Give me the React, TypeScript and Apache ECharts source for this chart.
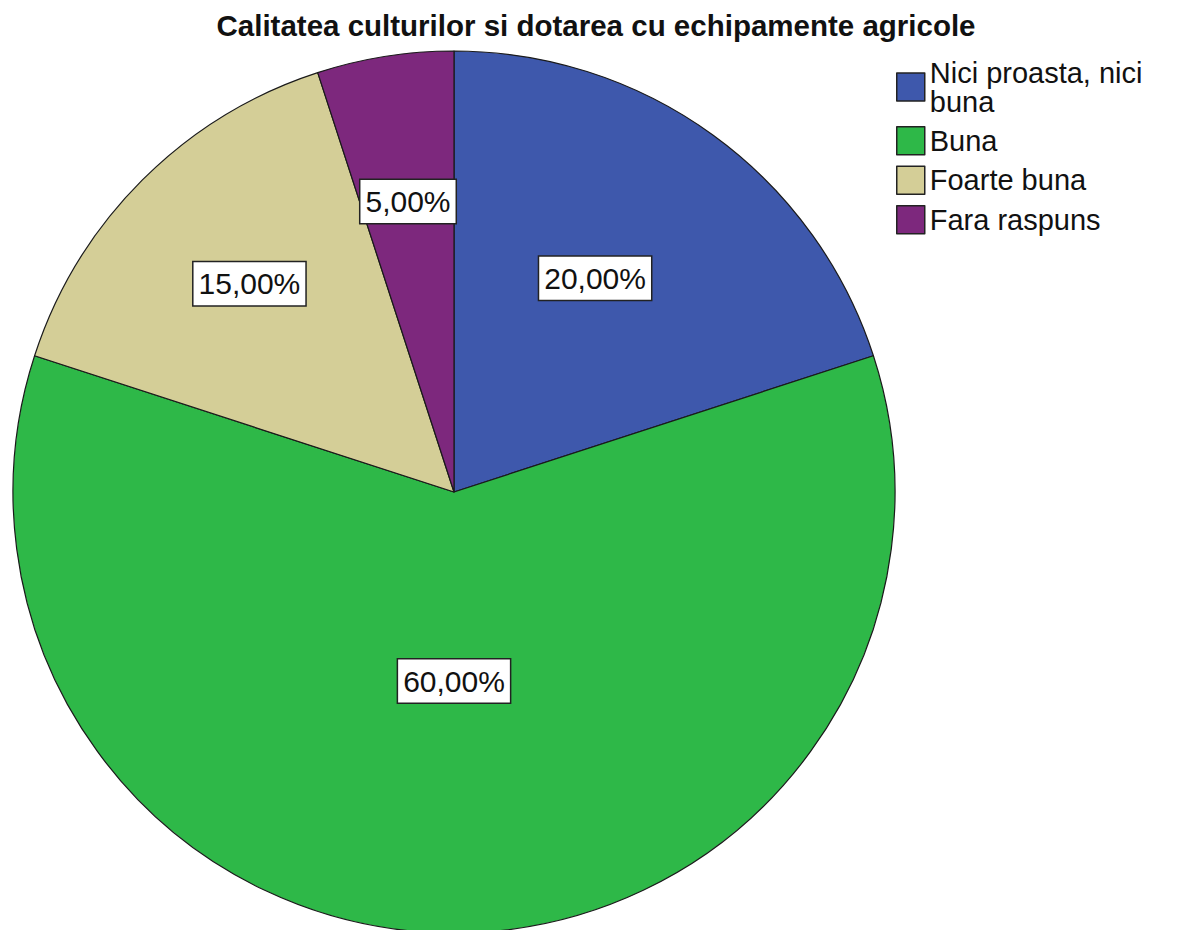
import React, { useEffect, useRef } from "react";
import * as echarts from "echarts";

const TITLE = "Calitatea culturilor si dotarea cu echipamente agricole";
const categories = ["Nici proasta, nici buna", "Buna", "Foarte buna", "Fara raspuns"];
const legendLabels = ["Nici proasta, nici\nbuna", "Buna", "Foarte buna", "Fara raspuns"];
const values = [20, 60, 15, 5];
const colors = ["#3E58AC", "#2EB848", "#D4CE97", "#7D287D"];
const labelRadiusFrac = [0.574, 0.422, 0.655, 0.66];
const labelAngleShiftDeg = [-2.6, 0, 0.5, 0];

const CX = 454;
const CY = 492;
const R = 441;

export default function App() {
  const ref = useRef<HTMLDivElement>(null);
  useEffect(() => {
    document.body.style.margin = "0";
    const chart = echarts.init(ref.current!, null, { renderer: "svg" });
    const total = values.reduce((a, b) => a + b, 0);
    const midAngles: number[] = [];
    let acc = 0;
    values.forEach((v) => {
      midAngles.push(((acc + v / 2) / total) * Math.PI * 2);
      acc += v;
    });
    const font = "'Liberation Sans', Arial, sans-serif";
    chart.setOption({
      animation: false,
      backgroundColor: "#ffffff",
      title: {
        text: TITLE,
        left: 591,
        textAlign: "center",
        top: 5,
        textStyle: { fontFamily: font, fontSize: 29.5, fontWeight: "bold", color: "#111" },
      },
      legend: {
        orient: "vertical",
        left: 891,
        top: 53,
        itemWidth: 28,
        itemHeight: 28,
        itemGap: 10,
        icon: "rect",
        selectedMode: false,
        data: categories.map((c, i) => ({
          name: c,
          itemStyle: { color: colors[i], borderColor: "#222", borderWidth: 1.5 },
        })),
        formatter: (name: string) => legendLabels[categories.indexOf(name)],
        textStyle: { fontFamily: font, fontSize: 29, lineHeight: 29, color: "#111" },
      },
      series: [
        {
          type: "pie",
          center: [CX, CY],
          radius: [0, R],
          startAngle: 90,
          clockwise: true,
          itemStyle: { borderColor: "#1a1a1a", borderWidth: 1.2 },
          label: {
            show: true,
            position: "inside",
            formatter: (p: any) => p.value.toFixed(2).replace(".", ",") + "%",
            fontFamily: font,
            fontSize: 30,
            lineHeight: 34,
            color: "#111",
            backgroundColor: "#ffffff",
            borderColor: "#222",
            borderWidth: 1.5,
            padding: [5, 5, 4, 5],
          },
          labelLine: { show: false },
          emphasis: { disabled: true },
          labelLayout: (p: any) => {
            const i = p.dataIndex;
            const a = midAngles[i];
            const b = a + (labelAngleShiftDeg[i] * Math.PI) / 180;
            const half = 0.5 * R;
            const f = labelRadiusFrac[i] * R;
            return {
              dx: f * Math.sin(b) - half * Math.sin(a),
              dy: -f * Math.cos(b) + half * Math.cos(a),
            };
          },
          data: categories.map((c, i) => ({
            name: c,
            value: values[i],
            itemStyle: { color: colors[i] },
          })),
        },
      ],
    });
    return () => chart.dispose();
  }, []);
  return <div ref={ref} style={{ width: 1177, height: 930 }} />;
}
